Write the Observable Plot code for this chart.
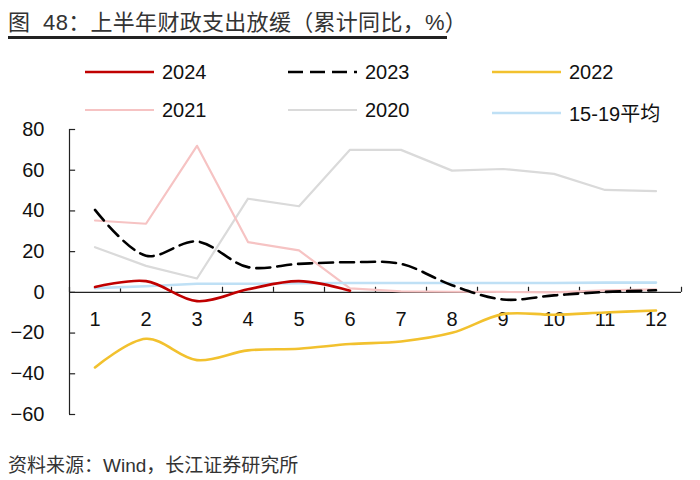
<!DOCTYPE html>
<html><head><meta charset="utf-8">
<script src="https://cdn.jsdelivr.net/npm/d3@7"></script>
<script src="https://cdn.jsdelivr.net/npm/@observablehq/plot@0.6"></script>
<style>
body{margin:0;width:700px;height:480px;position:relative;background:#fff;overflow:hidden;font-family:"Liberation Sans","Noto Sans CJK SC",sans-serif;color:#111}
#title{position:absolute;left:8px;top:4px;font-size:22px;letter-spacing:0.3px;color:#333;font-family:"Liberation Sans","Noto Sans CJK SC";white-space:pre}
#rule{position:absolute;left:8px;top:36px;width:439px;height:3px;background:#222}
.leg{position:absolute;display:flex;align-items:center;font-size:20px;white-space:nowrap}
.leg svg{margin-right:8px}
#chart{position:absolute;left:0;top:115px}
#source{position:absolute;left:8px;top:450px;font-size:19px;color:#333;font-family:"Liberation Sans","Noto Sans CJK SC";white-space:nowrap}
</style></head>
<body>
<div id="title">图  48：上半年财政支出放缓（累计同比，%）</div>
<div id="rule"></div>
<div id="legend"></div>
<div id="chart"></div>
<div id="source">资料来源：Wind，长江证券研究所</div>
<script>
const months = [1,2,3,4,5,6,7,8,9,10,11,12];
const yTicks = [-60,-40,-20,0,20,40,60,80];
const s2024 = [2.6,5.5,-4.3,1.5,5.5,0.8];
const s2023 = [40.5,18,25,12.4,14,14.8,14,3.5,-3.5,-1.5,0.2,1];
const s2022 = [-36.9,-22.8,-33.3,-28.5,-27.7,-25.4,-24.1,-19.9,-10.7,-11,-9.9,-8.9];
const s2021 = [35.3,33.7,72,24.7,20.6,2,0.5,0.3,0.2,0,1,1.5];
const s2020 = [22.2,13,6.8,46,42.3,70,70,59.8,60.6,58.2,50.3,49.7];
const sAvg = [2.1,3,4.2,4.2,4.5,4.6,4.6,4.6,4.6,4.6,4.8,4.8];
const seriesNames = ["2024","2023","2022","2021","2020","15-19平均"];

const colors = {"2024":"#C00000","2023":"#000000","2022":"#F2C12E","2021":"#F6C3C3","2020":"#DADADA","15-19平均":"#BFE0F5"};
const widths = {"2024":2.6,"2023":2.6,"2022":2.6,"2021":2.2,"2020":2.2,"15-19平均":2.6};
const dashes = {"2023":"14,7"};

const toRows = (arr) => arr.map((v,i)=>({m:months[i], v}));
const boundaries = d3.range(0.5, 13, 1);

// legend
const legPos = [[85,60],[288,60],[492,60],[85,98],[288,98],[492,98]];
const legend = document.getElementById("legend");
seriesNames.forEach((n,i)=>{
  const d = document.createElement("div");
  d.className="leg";
  d.style.left = legPos[i][0]+"px";
  d.style.top = legPos[i][1]+"px";
  d.innerHTML = `<svg width="69" height="24"><line x1="0" x2="69" y1="12" y2="12" stroke="${colors[n]}" stroke-width="${widths[n]}" ${dashes[n]?`stroke-dasharray="15,7"`:""}/></svg><span>${n}</span>`;
  legend.appendChild(d);
});

const line = (arr, name, curve) => Plot.line(toRows(arr), {x:"m", y:"v", stroke: colors[name], strokeWidth: widths[name], strokeDasharray: dashes[name], curve});

const plot = Plot.plot({
  width: 700, height: 315,
  marginLeft: 69, marginRight: 19, marginTop: 14, marginBottom: 16,
  x: {domain:[0.5,12.5], axis:null},
  y: {domain:[-60,80], label:null},
  style: {fontFamily:"Liberation Sans, Arial, sans-serif", color:"#111"},
  marks: [
    Plot.axisY(yTicks, {tickSize:0, tickPadding:25, fontSize:20, fill:"#111", label:null}),
    Plot.ruleX([0.5], {y1:-60, y2:80, stroke:"#222", strokeWidth:1.2}),
    Plot.ruleY(yTicks, {x1:0.5, x2:0.62, stroke:"#222", strokeWidth:1.2}),
    Plot.ruleY([0], {x1:0.5, x2:12.5, stroke:"#222", strokeWidth:1.2}),
    Plot.ruleX(boundaries, {y1:0, y2:2.5, stroke:"#222", strokeWidth:1.2}),
    Plot.text(months, {x:d=>d, y:0, dy:27, text:d=>String(d), fontSize:20, fill:"#111"}),
    line(s2020, "2020", "linear"),
    line(s2021, "2021", "linear"),
    line(sAvg, "15-19平均", "linear"),
    line(s2022, "2022", "catmull-rom"),
    line(s2023, "2023", "catmull-rom"),
    line(s2024, "2024", "catmull-rom")
  ]
});
document.getElementById("chart").appendChild(plot);
</script>
</body></html>
